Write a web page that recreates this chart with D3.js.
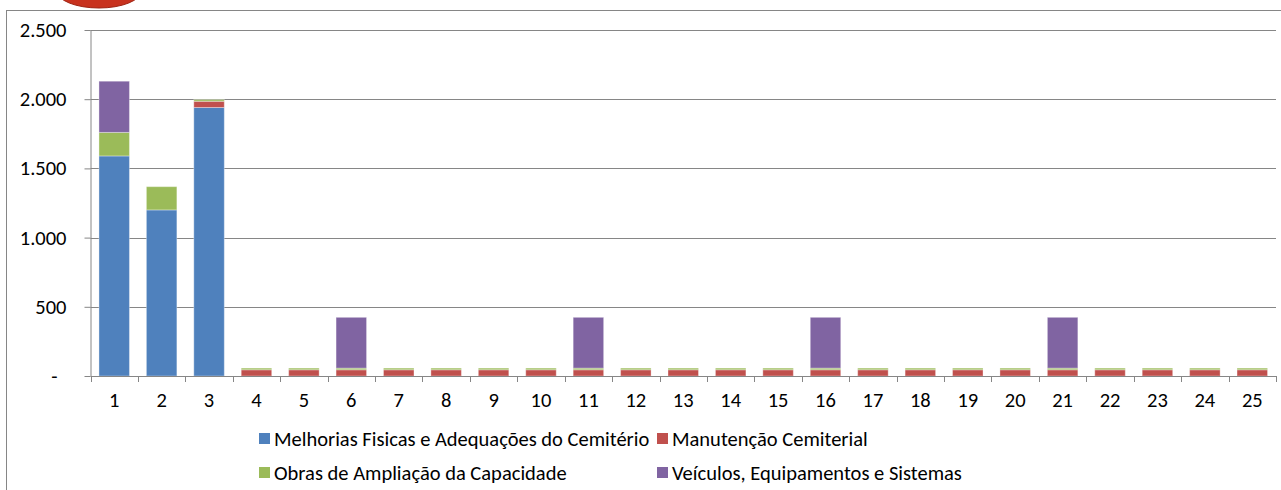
<!DOCTYPE html>
<html>
<head>
<meta charset="utf-8">
<script src="https://cdnjs.cloudflare.com/ajax/libs/d3/7.8.5/d3.min.js"></script>
<style>
  body { margin: 0; background: #fff; }
  text { font-family: Calibri, Carlito, Lato, sans-serif; fill: #000; }
</style>
</head>
<body>
<div id="chart"></div>
<script>
// categories (years / periods)
var categories = ["1","2","3","4","5","6","7","8","9","10","11","12","13","14","15","16","17","18","19","20","21","22","23","24","25"];

// series values
var melhorias  = [1590,1200,1940,0,0,0,0,0,0,0,0,0,0,0,0,0,0,0,0,0,0,0,0,0,0];
var manutencao = [0,0,45,45,45,45,45,45,45,45,45,45,45,45,45,45,45,45,45,45,45,45,45,45,45];
var obras      = [170,168,12,12,12,12,12,12,12,12,12,12,12,12,12,12,12,12,12,12,12,12,12,12,12];
var veiculos   = [370,0,0,0,0,367,0,0,0,0,367,0,0,0,0,367,0,0,0,0,367,0,0,0,0];

var seriesNames = ["Melhorias Fisicas e Adequações do Cemitério", "Manutenção Cemiterial",
                   "Obras de Ampliação da Capacidade", "Veículos, Equipamentos e Sistemas"];
var yTicks = [0, 500, 1000, 1500, 2000, 2500];

var colors = ["#4F81BD", "#C0504D", "#9BBB59", "#8064A2"];

var width = 1281, height = 490;
var fontSize = "20.5px";
var svg = d3.select("#chart").append("svg")
  .attr("width", width)
  .attr("height", height);

// logo fragment at the top
svg.append("ellipse")
  .attr("cx", 99).attr("cy", -9)
  .attr("rx", 42).attr("ry", 17)
  .style("fill", "#C8321E")
  .style("stroke", "#9E2414");

// chart area border
svg.append("rect")
  .attr("x", 6.5).attr("y", 10.5)
  .attr("width", 1400).attr("height", 600)
  .style("fill", "none")
  .style("stroke", "#868686");

var plotLeft = 90.5, plotRight = 1276, plotTop = 30, plotBottom = 376;

var x = d3.scaleBand()
  .domain(categories)
  .range([plotLeft, plotRight])
  .paddingInner(0.357)
  .paddingOuter(0.1785);

var y = d3.scaleLinear()
  .domain([0, 2500])
  .range([plotBottom, plotTop]);

var loc = d3.formatLocale({decimal: ",", thousands: ".", grouping: [3], currency: ["", ""]});
var fmt = loc.format(",d");

// gridlines
svg.append("g")
  .selectAll("line")
  .data(yTicks.filter(function(d) { return d > 0; }))
  .enter().append("line")
  .attr("x1", plotLeft).attr("x2", plotRight)
  .attr("y1", function(d) { return Math.round(y(d)) + 0.5; })
  .attr("y2", function(d) { return Math.round(y(d)) + 0.5; })
  .style("stroke", "#868686");

// stacked bars
var table = categories.map(function(c, i) {
  return {cat: c, s0: melhorias[i], s1: manutencao[i], s2: obras[i], s3: veiculos[i]};
});
var stack = d3.stack().keys(["s0", "s1", "s2", "s3"])(table);

svg.append("g")
  .selectAll("g")
  .data(stack)
  .enter().append("g")
  .style("fill", function(d, i) { return colors[i]; })
  .selectAll("rect")
  .data(function(d) { return d.filter(function(p) { return p[1] - p[0] > 0; }); })
  .enter().append("rect")
  .attr("x", function(d) { return x(d.data.cat); })
  .attr("width", x.bandwidth())
  .attr("y", function(d) { return y(d[1]); })
  .attr("height", function(d) { return y(d[0]) - y(d[1]); })
  .style("stroke", "rgba(255,255,255,0.35)")
  .style("stroke-width", 1);

// y axis
var yAxis = svg.append("g")
  .attr("transform", "translate(" + plotLeft + ",0)")
  .call(d3.axisLeft(y).tickValues(yTicks).tickSize(6).tickPadding(18)
    .tickFormat(function(d) { return d === 0 ? "-" : fmt(d); }));
yAxis.select(".domain").attr("d", "M0.5," + plotTop + "V" + plotBottom).style("stroke", "#868686");
yAxis.selectAll(".tick line").style("stroke", "#868686");
yAxis.selectAll(".tick text")
  .style("font-size", fontSize)
  .attr("dx", function(d) { return d === 0 ? "-9px" : 0; });

// x axis
var xAxis = svg.append("g")
  .attr("transform", "translate(0," + (plotBottom + 0.5) + ")")
  .call(d3.axisBottom(x).tickSize(0).tickPadding(16));
xAxis.select(".domain").attr("d", "M" + plotLeft + ",0H" + plotRight).style("stroke", "#868686");
xAxis.selectAll(".tick text").style("font-size", fontSize);

// x tick marks at category boundaries
svg.append("g")
  .selectAll("line")
  .data(categories.concat(["end"]))
  .enter().append("line")
  .attr("x1", function(d, i) { return Math.round(plotLeft + i * x.step()) + 0.5; })
  .attr("x2", function(d, i) { return Math.round(plotLeft + i * x.step()) + 0.5; })
  .attr("y1", plotBottom).attr("y2", plotBottom + 6)
  .style("stroke", "#868686");

// legend
var legendPos = [[259, 439], [657, 439], [259, 473], [657, 473]];
var legend = svg.append("g")
  .selectAll("g")
  .data(seriesNames)
  .enter().append("g")
  .attr("transform", function(d, i) { return "translate(" + legendPos[i][0] + "," + legendPos[i][1] + ")"; });
legend.append("rect")
  .attr("x", 0).attr("y", -6)
  .attr("width", 11).attr("height", 11)
  .style("fill", function(d, i) { return colors[i]; });
legend.append("text")
  .attr("x", 15).attr("y", 0)
  .attr("dy", "0.35em")
  .style("font-size", fontSize)
  .text(function(d) { return d; });
</script>
</body>
</html>
